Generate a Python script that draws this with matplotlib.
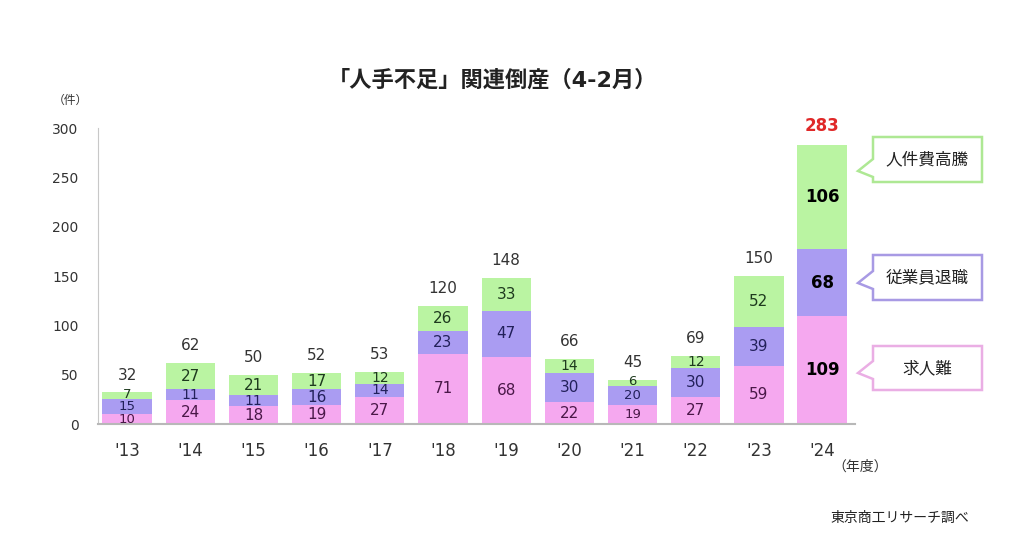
import matplotlib
matplotlib.use("Agg")
import matplotlib.pyplot as plt
from matplotlib.patches import Polygon

plt.rcParams['font.family'] = ['DejaVu Sans', 'Noto Sans CJK JP']

years = ["'13", "'14", "'15", "'16", "'17", "'18", "'19", "'20", "'21", "'22", "'23", "'24"]
kyujin = [10, 24, 18, 19, 27, 71, 68, 22, 19, 27, 59, 109]        # 求人難
taishoku = [15, 11, 11, 16, 14, 23, 47, 30, 20, 30, 39, 68]       # 従業員退職
jinkenhi = [7, 27, 21, 17, 12, 26, 33, 14, 6, 12, 52, 106]        # 人件費高騰
totals = [a + b + c for a, b, c in zip(kyujin, taishoku, jinkenhi)]
series_names = ["求人難", "従業員退職", "人件費高騰"]
yticks = [0, 50, 100, 150, 200, 250, 300]

c_pink = '#f5a8ef'
c_purple = '#aa9cf2'
c_green = '#baf4a2'
t_pink = '#4a1848'
t_purple = '#22205a'
t_green = '#1e3a1e'

W, H = 1030, 558
fig = plt.figure(figsize=(W / 100, H / 100), dpi=100)
ax = fig.add_axes([98 / W, 1 - 424 / H, (855 - 98) / W, (424 - 128) / H])

x = list(range(len(years)))
bw = 0.78
ax.bar(x, kyujin, bw, color=c_pink, zorder=2)
bot2 = kyujin
ax.bar(x, taishoku, bw, bottom=bot2, color=c_purple, zorder=2)
bot3 = [a + b for a, b in zip(kyujin, taishoku)]
ax.bar(x, jinkenhi, bw, bottom=bot3, color=c_green, zorder=2)

last = len(years) - 1


def seg_fs(i, v):
    if i == last:
        return 12
    if totals[i] < 50:
        return 9.5
    return 10 if v <= 15 else 11


for i in x:
    bold = (i == last)
    fw = 'bold' if bold else 'normal'
    tight = totals[i] < 50
    ax.text(i, kyujin[i] / 2, str(kyujin[i]), ha='center', va='center',
            fontsize=seg_fs(i, kyujin[i]), fontweight=fw,
            color='black' if bold else t_pink, zorder=3)
    ax.text(i, bot2[i] + taishoku[i] / 2, str(taishoku[i]), ha='center', va='center',
            fontsize=seg_fs(i, taishoku[i]), fontweight=fw,
            color='black' if bold else t_purple, zorder=3)
    ax.text(i, bot3[i] + jinkenhi[i] / 2 + (1 if tight else 0), str(jinkenhi[i]),
            ha='center', va='center', fontsize=seg_fs(i, jinkenhi[i]), fontweight=fw,
            color='black' if bold else t_green, zorder=3)
    if bold:
        ax.text(i, totals[i] + 10, str(totals[i]), ha='center', va='bottom',
                fontsize=12, fontweight='bold', color='#e02828', clip_on=False)
    else:
        ax.text(i, totals[i] + 10, str(totals[i]), ha='center', va='bottom',
                fontsize=11, color='#333333', clip_on=False)

ax.set_xlim(-0.46, 11.52)
ax.set_ylim(0, 300)
ax.set_yticks(yticks)
ax.set_yticklabels([str(v) for v in yticks], fontsize=10, color='#333333')
ax.set_xticks(x)
ax.set_xticklabels(years, fontsize=12, color='#333333')
ax.tick_params(axis='both', length=0)
ax.tick_params(axis='y', pad=14)
ax.tick_params(axis='x', pad=13)
for s in ['top', 'right']:
    ax.spines[s].set_visible(False)
ax.spines['left'].set_color('#c8c8c8')
ax.spines['bottom'].set_color('#b8b8b8')
ax.spines['bottom'].set_linewidth(1.5)

fig.text(492 / W, 1 - 80 / H, "「人手不足」関連倒産（4-2月）", ha='center', va='center',
         fontsize=16, fontweight='bold', color='#222222')
fig.text(70 / W, 1 - 100 / H, "（件）", ha='center', va='center', fontsize=8.5, color='#333333')
fig.text(860 / W, 1 - 467 / H, "（年度）", ha='center', va='center', fontsize=10, color='#333333')
fig.text(900 / W, 1 - 518 / H, "東京商工リサーチ調べ", ha='center', va='center',
         fontsize=10, color='#222222')


def callout(top, bottom, tip_y, edge, label):
    left, right, tip_x = 873, 982, 858
    pts = [(left, top), (right, top), (right, bottom), (left, bottom),
           (left, tip_y + 6), (tip_x, tip_y), (left, tip_y - 12)]
    pts = [(px / W, 1 - py / H) for px, py in pts]
    fig.patches.append(Polygon(pts, closed=True, facecolor='white', edgecolor=edge,
                               linewidth=1.8, transform=fig.transFigure))
    fig.text((left + right) / 2 / W, 1 - (top + bottom) / 2 / H, label, ha='center',
             va='center', fontsize=12, color='#222222')


callout(137, 182, 171, '#aee894', series_names[2])
callout(255, 300, 283, '#a89ae4', series_names[1])
callout(346, 390, 373, '#eaaee4', series_names[0])

fig.savefig('out.png', dpi=100)
